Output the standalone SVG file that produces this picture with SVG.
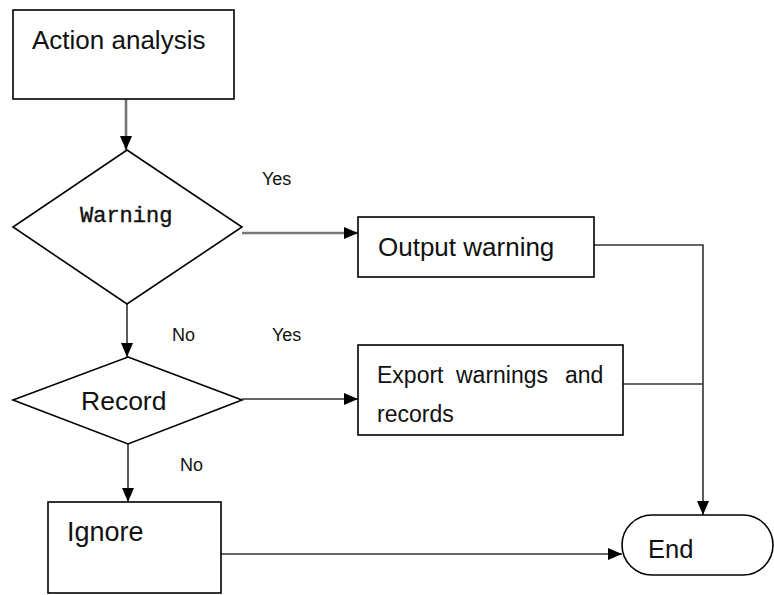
<svg xmlns="http://www.w3.org/2000/svg" width="774" height="595" viewBox="0 0 774 595">
<style>
.box{fill:#fff;stroke:#000;stroke-width:1.6}
.t{font-family:"Liberation Sans",Arial,sans-serif;fill:#111}
.lbl{font-family:"Liberation Sans",Arial,sans-serif;fill:#111;font-size:18px}
.c{fill:none;stroke:#333;stroke-width:1.6}
.cg{fill:none;stroke:#777;stroke-width:2.6}
</style>
<defs>
<marker id="ah" markerUnits="userSpaceOnUse" markerWidth="14" markerHeight="14" viewBox="0 0 14 14" refX="14" refY="7" orient="auto">
<path d="M0,1 L14,7 L0,13 Z" fill="#000"/>
</marker>
</defs>
<rect width="774" height="595" fill="#fff"/>
<g id="connectors">
<line class="cg" x1="126" y1="99" x2="126" y2="150" marker-end="url(#ah)"/>
<line class="cg" x1="242" y1="233" x2="358" y2="233" marker-end="url(#ah)"/>
<line class="c" x1="127" y1="304" x2="127" y2="357" marker-end="url(#ah)"/>
<line class="c" x1="242" y1="399" x2="358" y2="399" marker-end="url(#ah)"/>
<line class="c" x1="128" y1="444" x2="128" y2="502" marker-end="url(#ah)"/>
<line class="c" x1="221" y1="554" x2="622" y2="554" marker-end="url(#ah)"/>
<polyline class="c" points="594,245 703,245 703,515" marker-end="url(#ah)"/>
<line class="c" x1="623" y1="384" x2="703" y2="384"/>
<text class="lbl" x="262" y="185">Yes</text>
<text class="lbl" x="172" y="341">No</text>
<text class="lbl" x="272" y="341">Yes</text>
<text class="lbl" x="180" y="471">No</text>
</g>
<g id="action">
<rect class="box" x="13" y="10" width="221" height="89"/>
<text class="t" x="32" y="49" font-size="26">Action analysis</text>
</g>
<g id="warning">
<polygon class="box" points="127,150 242,227 127,304 13,227"/>
<text x="80" y="222" font-family="'Liberation Mono','Courier New',monospace" font-size="22" fill="#111" stroke="#111" stroke-width="0.4">Warning</text>
</g>
<g id="output">
<rect class="box" x="358" y="217" width="236" height="60"/>
<text class="t" x="378" y="256" font-size="26">Output warning</text>
</g>
<g id="record">
<polygon class="box" points="128,357 242,400 128,444 13,400"/>
<text class="t" x="81" y="410" font-size="26.5">Record</text>
</g>
<g id="export">
<rect class="box" x="358" y="345" width="265" height="90"/>
<text class="t" font-size="23"><tspan x="377" y="383">Export</tspan><tspan x="456" y="383">warnings</tspan><tspan x="565" y="383">and</tspan><tspan x="377" y="422">records</tspan></text>
</g>
<g id="ignore">
<rect class="box" x="48" y="502" width="173" height="91"/>
<text class="t" x="67" y="541" font-size="27">Ignore</text>
</g>
<g id="end">
<rect class="box" x="622" y="515" width="151" height="60" rx="30" ry="30"/>
<text class="t" x="648" y="558" font-size="25.5">End</text>
</g>
</svg>
